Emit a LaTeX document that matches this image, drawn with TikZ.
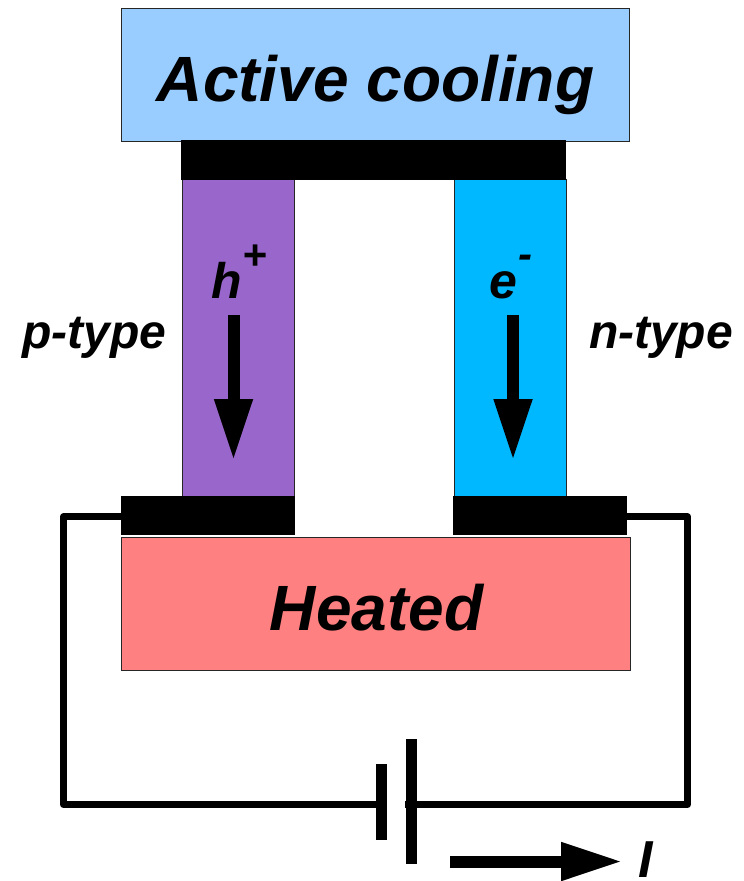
\documentclass[tikz,border=0pt]{standalone}
\usepackage{fontspec}
\setmainfont{Liberation Sans}
\usetikzlibrary{arrows.meta}
\definecolor{legPc}{HTML}{9966CC}
\definecolor{legNc}{HTML}{00B8FF}
\definecolor{coolC}{HTML}{99CCFF}
\definecolor{heatC}{HTML}{FF8080}
\tikzset{
  box/.style={draw=black!85,line width=0.8pt,inner sep=0pt,outer sep=0pt,rectangle},
  pad/.style={box,draw=black,fill=black},
  plate/.style={fill=black,inner sep=0pt,outer sep=0pt,minimum width=11pt},
  wire/.style={line width=7pt,black,line join=round},
  flow/.style={line width=12pt,black,-{Triangle[length=59pt,width=39.5pt,line width=0pt]}},
  txt/.style={anchor=base,inner sep=0pt,font=\bfseries\itshape\fontsize{#1}{#1}\selectfont},
}
\begin{document}
\begin{tikzpicture}[x=1pt,y=-1pt]
\useasboundingbox (0,0) rectangle (744,881);
\fill[white] (0,0) rectangle (744,881);
% legs
\node[box,fill=legPc,minimum width=112pt,minimum height=318pt] (legP) at (238,338) {};
\node[box,fill=legNc,minimum width=112pt,minimum height=318pt] (legN) at (510,338) {};
% plates and reservoirs
\node[box,fill=coolC,minimum width=508pt,minimum height=133pt] (cool) at (375.5,74.5) {};
\node[pad,minimum width=384pt,minimum height=39pt] (bridge) at (373.5,160) {};
\node[pad,minimum width=173.5pt,minimum height=38.5pt] (padL) at (207.75,515.25) {};
\node[pad,minimum width=173.5pt,minimum height=38.5pt] (padR) at (539.75,515.25) {};
\node[box,fill=heatC,minimum width=509pt,minimum height=133pt] (heat) at (376,603.5) {};
% battery
\node[plate,minimum height=76pt] (batL) at (381.5,802) {};
\node[plate,minimum height=125pt] (batR) at (411.5,801) {};
% wires
\coordinate (wL1) at (63.5,804.5);
\coordinate (wR1) at (687.5,804.5);
\coordinate (tapL) at (381.5,804.5);
\coordinate (tapR) at (405,804.5);
\draw[wire] ([yshift=-1.5pt]padL.west) -| (wL1) -- (tapL);
\draw[wire] ([yshift=-1.5pt]padR.east) -| (wR1) -- (tapR);
% flow arrows
\coordinate (hA) at (233.5,315); \coordinate (hB) at (233.5,458);
\coordinate (eA) at (513,315);   \coordinate (eB) at (513,458);
\coordinate (iA) at (450,861.5); \coordinate (iB) at (620,861.5);
\draw[flow] (hA) -- (hB);
\draw[flow] (eA) -- (eB);
\draw[flow] (iA) -- (iB);
% labels
\node[txt=64] (tCool) at (375.5,101) {Active cooling};
\node[txt=64] (tHeat) at (376.5,630) {Heated};
\node[txt=48] (tP) at (94.5,348) {p-type};
\node[txt=48] (tN) at (661,348) {n-type};
\node[txt=50] (tH) at (226.5,298) {h};
\node[txt=42] (tPlus) at (255,269) {+};
\node[txt=50] (tE) at (503.5,298) {e};
\node[txt=42] (tMinus) at (525,268) {-};
\node[txt=52] (tI) at (645.5,877) {I};
\end{tikzpicture}
\end{document}
